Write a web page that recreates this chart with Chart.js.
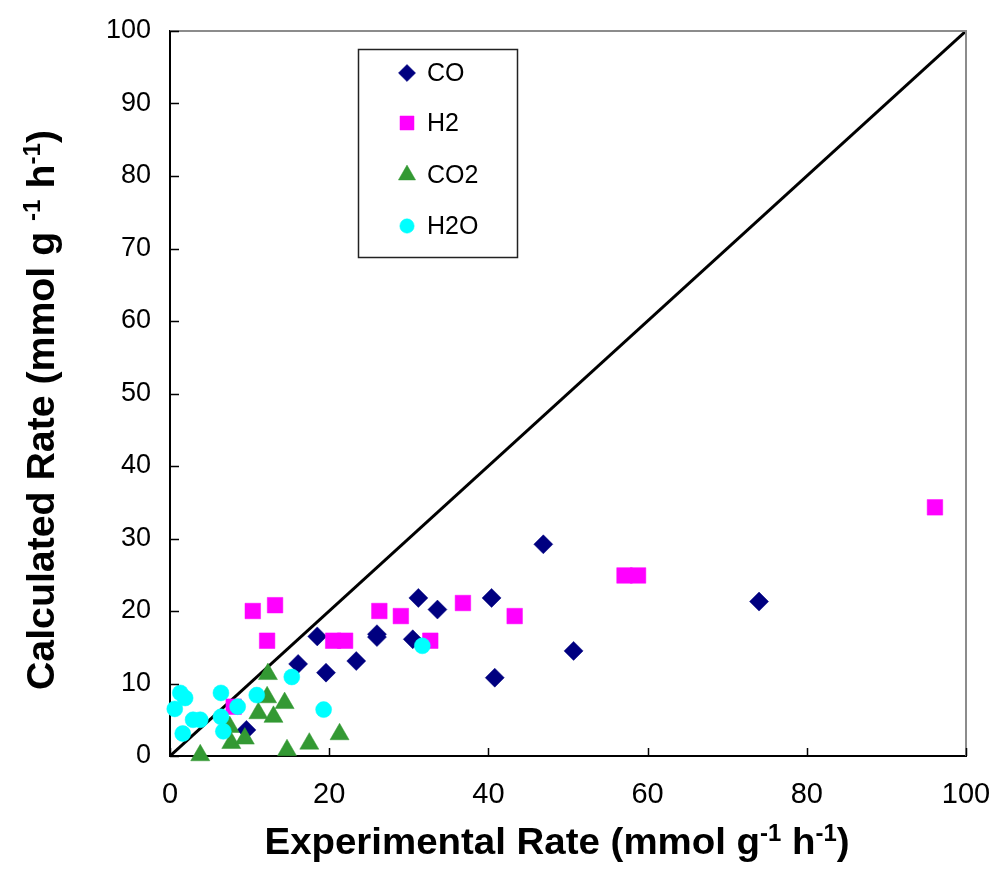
<!DOCTYPE html>
<html>
<head>
<meta charset="utf-8">
<script src="https://cdn.jsdelivr.net/npm/chart.js@4/dist/chart.umd.min.js"></script>
<style>
  html, body { margin: 0; padding: 0; background: #fff; }
  #wrap { width: 995px; height: 881px; }
</style>
</head>
<body>
<div id="wrap"><canvas id="c" width="995" height="881"></canvas></div>
<script>
// ---- Data ----
const seriesNames = ['CO', 'H2', 'CO2', 'H2O'];
const coX  = [9.6, 16.1, 18.5, 19.6, 23.4, 26.0, 26.0, 30.5, 31.2, 33.6, 40.4, 40.8, 46.9, 50.7, 74.0];
const coY  = [3.6, 12.7, 16.5, 11.5, 13.1, 16.8, 16.4, 16.1, 21.8, 20.2, 21.8, 10.8, 29.2, 14.5, 21.3];
const h2X  = [8.0, 10.4, 13.2, 12.2, 20.5, 22.0, 26.3, 29.0, 32.7, 36.8, 43.3, 57.1, 58.8, 96.1];
const h2Y  = [6.8, 20.0, 20.8, 15.9, 15.9, 15.9, 20.0, 19.3, 15.9, 21.1, 19.3, 24.9, 24.9, 34.3];
const co2X = [3.8, 7.5, 7.7, 9.4, 11.1, 12.2, 12.3, 13.0, 14.4, 14.7, 17.5, 21.3];
const co2Y = [0.1, 4.0, 1.8, 2.4, 5.9, 8.1, 11.3, 5.4, 7.3, 0.8, 1.7, 3.0];
const h2oX = [0.6, 1.3, 1.6, 1.9, 2.9, 3.8, 6.4, 6.4, 6.7, 8.5, 10.9, 15.3, 19.3, 31.7];
const h2oY = [6.5, 8.7, 3.1, 8.0, 5.0, 5.0, 8.7, 5.4, 3.4, 6.8, 8.4, 10.9, 6.4, 15.2];
const parityX = [0, 100];
const parityY = [0, 100];
const xTicks = [0, 20, 40, 60, 80, 100];
const yTicks = [0, 10, 20, 30, 40, 50, 60, 70, 80, 90, 100];
const xTitle = [['Experimental Rate (mmol g', false], ['-1', true], [' h', false], ['-1', true], [')', false]];
const yTitle = [['Calculated Rate (mmol g ', false], ['-1', true], [' h', false], ['-1', true], [')', false]];

const pts = (xs, ys) => xs.map((x, i) => ({ x: x, y: ys[i] }));

const styles = [
  { color: '#000080', pointStyle: 'rectRot', radius: 9.5 },
  { color: '#FF00FF', pointStyle: 'rect', radius: 11 },
  { color: '#339933', pointStyle: 'triangle', radius: 11 },
  { color: '#00FFFF', pointStyle: 'circle', radius: 8 }
];
const seriesData = [pts(coX, coY), pts(h2X, h2Y), pts(co2X, co2Y), pts(h2oX, h2oY)];

const FONT = '"Liberation Sans", Arial, Helvetica, sans-serif';

const datasets = seriesNames.map((name, i) => ({
  label: name,
  data: seriesData[i],
  showLine: false,
  pointStyle: styles[i].pointStyle,
  pointRadius: styles[i].radius,
  pointHoverRadius: styles[i].radius,
  backgroundColor: styles[i].color,
  borderColor: styles[i].color,
  pointBorderWidth: 0.5,
  clip: false,
  order: 4 - i
}));
datasets.push({
  label: 'parity',
  type: 'line',
  data: pts(parityX, parityY),
  borderColor: '#000',
  borderWidth: 3,
  pointRadius: 0,
  fill: false,
  order: 10
});

// draws text with superscripts, centred at (cx, baseline), stretched to targetW
function drawRich(ctx, segs, cx, baseline, size, targetW) {
  const supSize = Math.round(size * 0.62);
  let total = 0;
  const widths = segs.map(([t, sup]) => {
    ctx.font = 'bold ' + (sup ? supSize : size) + 'px ' + FONT;
    const w = ctx.measureText(t).width;
    total += w;
    return w;
  });
  const sx = targetW ? targetW / total : 1;
  ctx.save();
  ctx.translate(cx, baseline);
  ctx.scale(sx, 1);
  let x = -total / 2;
  ctx.textBaseline = 'alphabetic';
  ctx.textAlign = 'left';
  segs.forEach(([t, sup], i) => {
    ctx.font = 'bold ' + (sup ? supSize : size) + 'px ' + FONT;
    ctx.fillText(t, x, sup ? -size * 0.36 : 0);
    x += widths[i];
  });
  ctx.restore();
}

function drawMarker(ctx, style, x, y) {
  const H = (window.Chart && Chart.helpers && Chart.helpers.drawPoint) ? Chart.helpers.drawPoint : null;
  ctx.save();
  ctx.fillStyle = style.color;
  ctx.strokeStyle = style.color;
  ctx.lineWidth = 0.5;
  if (H) {
    H(ctx, { pointStyle: style.pointStyle, radius: style.radius * 0.9, rotation: 0, borderWidth: 0.5 }, x, y);
  } else {
    ctx.beginPath();
    ctx.arc(x, y, style.radius * 0.9, 0, Math.PI * 2);
    ctx.fill();
  }
  ctx.restore();
}

const decor = {
  id: 'decor',
  afterDraw(chart) {
    const ctx = chart.ctx;
    const a = chart.chartArea;
    const xs = chart.scales.x, ys = chart.scales.y;
    ctx.save();
    // top and right frame (grey)
    ctx.strokeStyle = '#8c8c8c';
    ctx.lineWidth = 2;
    ctx.beginPath();
    ctx.moveTo(a.left, a.top);
    ctx.lineTo(a.right, a.top);
    ctx.lineTo(a.right, a.bottom);
    ctx.stroke();
    // inward tick marks
    ctx.strokeStyle = '#000';
    ctx.lineWidth = 1.5;
    ctx.beginPath();
    xTicks.forEach(v => {
      const px = Math.round(xs.getPixelForValue(v)) + 0.5;
      ctx.moveTo(px, a.bottom);
      ctx.lineTo(px, a.bottom - 8);
    });
    yTicks.forEach(v => {
      const py = Math.round(ys.getPixelForValue(v)) + 0.5;
      ctx.moveTo(a.left, py);
      ctx.lineTo(a.left + 9, py);
    });
    ctx.stroke();
    // axis titles with superscripts
    ctx.fillStyle = '#000';
    drawRich(ctx, xTitle, 557, 854, 37, 585);
    ctx.save();
    ctx.translate(54, 410);
    ctx.rotate(-Math.PI / 2);
    drawRich(ctx, yTitle, 0, 0, 39, 560);
    ctx.restore();
    // legend box
    ctx.fillStyle = '#fff';
    ctx.fillRect(358, 49, 159, 208);
    ctx.strokeStyle = '#222';
    ctx.lineWidth = 1.5;
    ctx.strokeRect(358.5, 49.5, 159, 208);
    const rows = [73, 123, 175, 226];
    seriesNames.forEach((name, i) => {
      drawMarker(ctx, styles[i], 407, rows[i]);
      ctx.fillStyle = '#000';
      ctx.font = '25px ' + FONT;
      ctx.textAlign = 'left';
      ctx.textBaseline = 'middle';
      ctx.fillText(name, 427, rows[i] + 1);
    });
    ctx.restore();
  }
};

new Chart(document.getElementById('c'), {
  type: 'scatter',
  data: { datasets: datasets },
  options: {
    responsive: false,
    animation: false,
    devicePixelRatio: 1,
    layout: { padding: { left: 0, top: 31, right: 29, bottom: 0 } },
    plugins: {
      legend: { display: false },
      tooltip: { enabled: false },
      title: { display: false }
    },
    scales: {
      x: {
        type: 'linear',
        min: 0, max: 100,
        afterFit(s) { s.height = 125; s.paddingLeft = 0; s.paddingRight = 0; },
        afterBuildTicks(s) { s.ticks = xTicks.map(v => ({ value: v })); },
        ticks: { font: { family: FONT, size: 29 }, color: '#000', padding: 22, maxRotation: 0 },
        grid: { display: false, drawTicks: false },
        border: { display: true, color: '#000', width: 2 }
      },
      y: {
        type: 'linear',
        min: 0, max: 100,
        afterFit(s) { s.width = 170; s.paddingTop = 0; s.paddingBottom = 0; },
        afterBuildTicks(s) { s.ticks = yTicks.map(v => ({ value: v })); },
        ticks: { font: { family: FONT, size: 27 }, color: '#000', padding: 19 },
        grid: { display: false, drawTicks: false },
        border: { display: true, color: '#000', width: 2 }
      }
    }
  },
  plugins: [decor]
});
</script>
</body>
</html>
